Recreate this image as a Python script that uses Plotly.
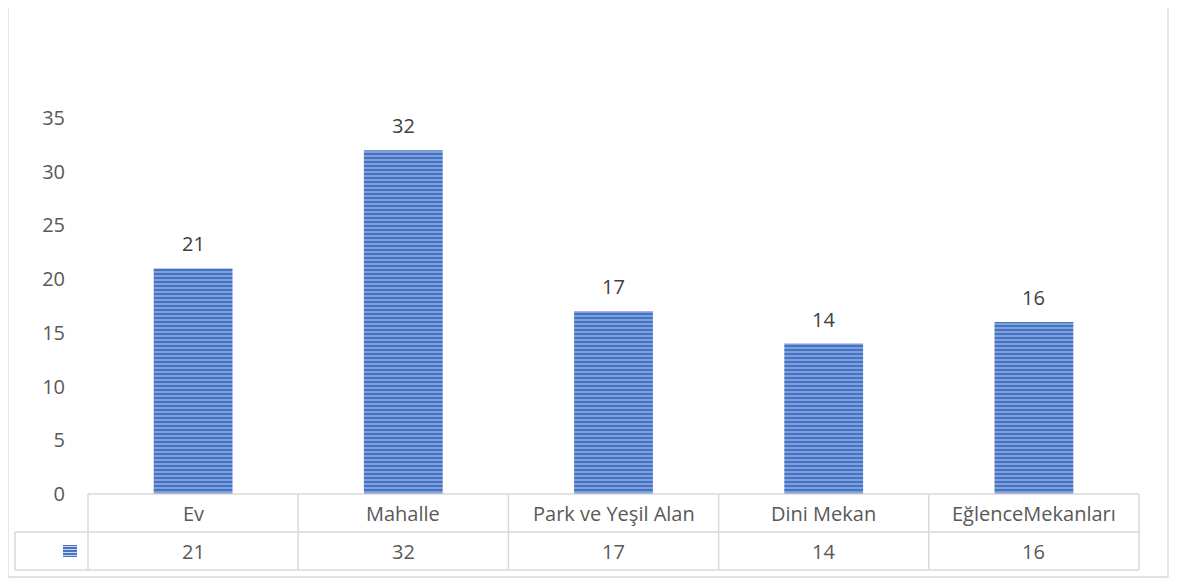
import plotly.graph_objects as go

categories = ["Ev", "Mahalle", "Park ve Yeşil Alan", "Dini Mekan", "EğlenceMekanları"]
values = [21, 32, 17, 14, 16]
y_ticks = [0, 5, 10, 15, 20, 25, 30, 35]

OFF = 8  # page body margin
W, H = 1179 - OFF, 579 - OFF
L, R, T, B = 88 - OFF, 40, 118 - OFF, 85
pw, ph = W - L - R, H - T - B

def px(x):
    return (x - OFF - L) / pw

def py(y):
    return (H - B - (y - OFF)) / ph

FONT = "Open Sans, sans-serif"
FS = 20
GRID = "#d9d9d9"
TXT = "#595959"

fig = go.Figure()
fig.add_trace(go.Bar(
    x=categories, y=values,
    marker=dict(color="#4472C4", line=dict(width=0),
                pattern=dict(shape="-", size=4, solidity=0.45,
                             fgcolor="#c9d7f0", bgcolor="#4472C4", fillmode="overlay")),
    width=0.375, showlegend=False, hoverinfo="x+y",
))

shapes = []
shapes.append(dict(type="rect", xref="paper", yref="paper",
                   x0=px(8), x1=px(1168), y0=py(7), y1=py(577),
                   line=dict(color=GRID, width=1.3), fillcolor="rgba(0,0,0,0)", layer="below"))
for yy in [494, 532, 570]:
    x0 = 88 if yy == 494 else 15
    shapes.append(dict(type="line", xref="paper", yref="paper",
                       x0=px(x0), x1=px(1139), y0=py(yy), y1=py(yy),
                       line=dict(color=GRID, width=1.5)))
n = len(categories)
for i in range(n + 1):
    xb = i / n
    shapes.append(dict(type="line", xref="paper", yref="paper",
                       x0=xb, x1=xb, y0=py(494), y1=py(570),
                       line=dict(color=GRID, width=1.5)))
shapes.append(dict(type="line", xref="paper", yref="paper",
                   x0=px(15), x1=px(15), y0=py(532), y1=py(570),
                   line=dict(color=GRID, width=1.5)))
shapes.append(dict(type="rect", xref="paper", yref="paper",
                   x0=px(63), x1=px(77), y0=py(545), y1=py(557),
                   fillcolor="#4472C4", line=dict(width=0)))
for k in range(4):
    yy = 546.5 + k * 3
    shapes.append(dict(type="line", xref="paper", yref="paper",
                       x0=px(63), x1=px(77), y0=py(yy), y1=py(yy),
                       line=dict(color="#c9d7f0", width=1)))

annotations = []
for c, v in zip(categories, values):
    annotations.append(dict(x=c, y=v, xref="x", yref="y", text=str(v),
                            yanchor="bottom", yshift=9, showarrow=False,
                            font=dict(size=FS, color="#404040", family=FONT)))
    annotations.append(dict(x=c, y=py(513), xref="x", yref="paper", text=c,
                            yanchor="middle", showarrow=False,
                            font=dict(size=FS, color=TXT, family=FONT)))
    annotations.append(dict(x=c, y=py(551), xref="x", yref="paper", text=str(v),
                            yanchor="middle", showarrow=False,
                            font=dict(size=FS, color=TXT, family=FONT)))

fig.update_layout(
    width=W, height=H,
    margin=dict(l=L, r=R, t=T, b=B),
    paper_bgcolor="white", plot_bgcolor="white",
    shapes=shapes, annotations=annotations,
    xaxis=dict(showticklabels=False, showgrid=False, zeroline=False, showline=False),
    yaxis=dict(range=[0, 35], tickvals=y_ticks, showgrid=False, zeroline=False,
               showline=False, ticks="", ticklabelstandoff=22,
               tickfont=dict(size=FS, color=TXT, family=FONT)),
    font=dict(family=FONT),
)

fig.write_html("out.html")
